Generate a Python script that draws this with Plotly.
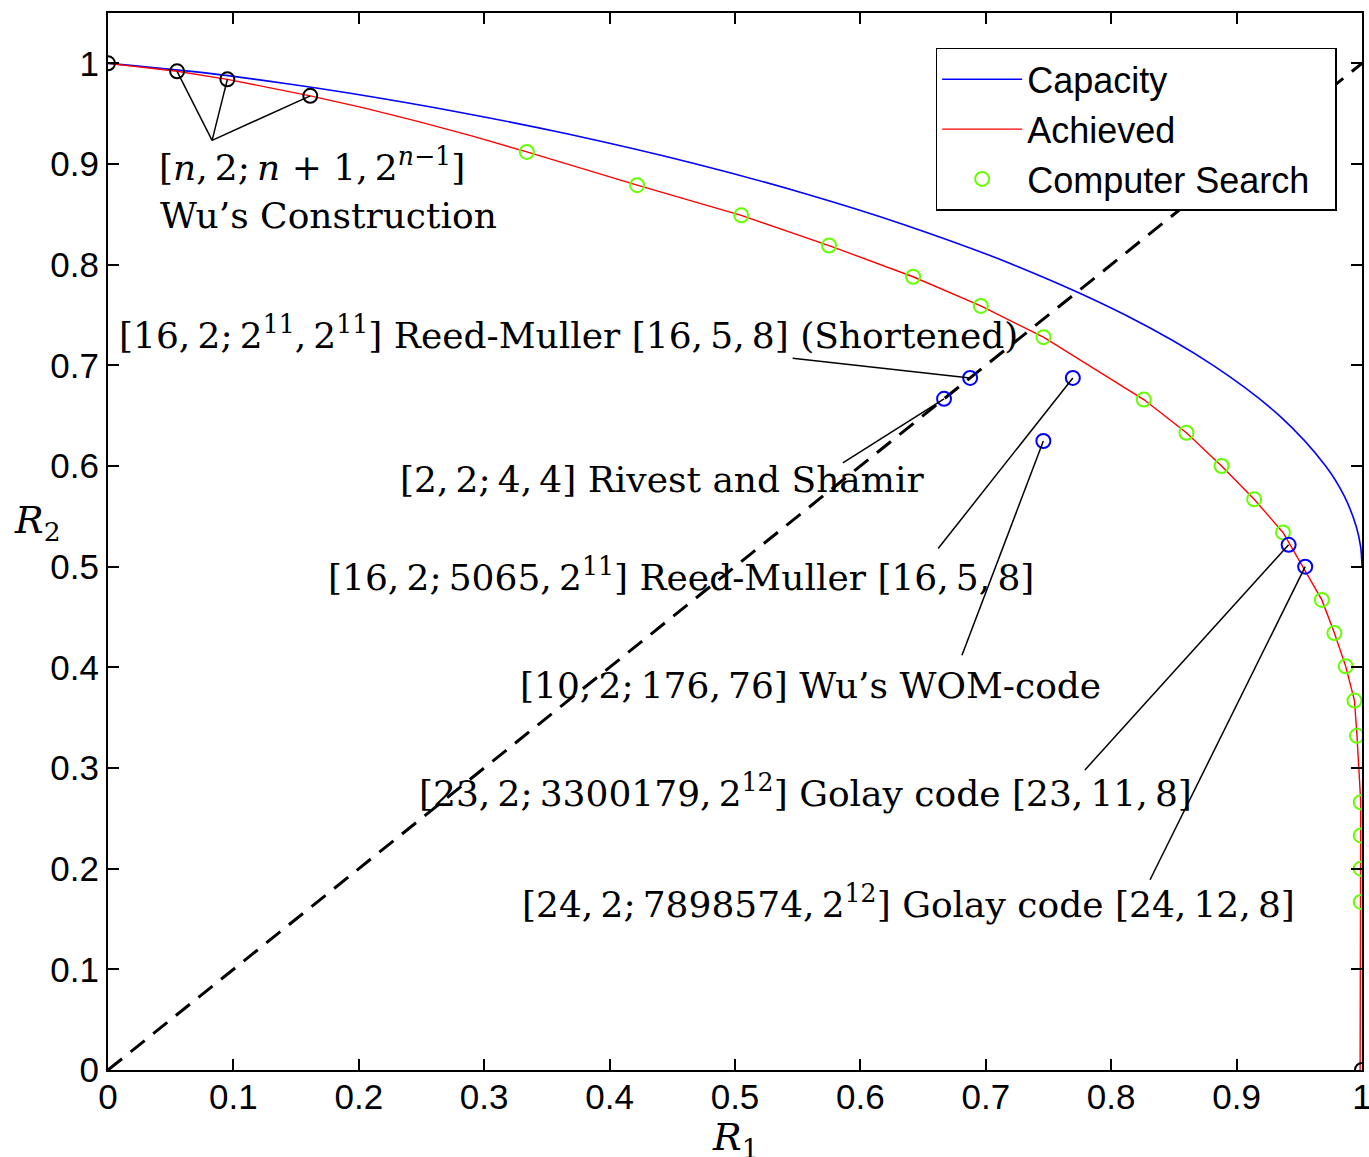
import plotly.graph_objects as go

# ---------------- data ----------------
cap_r1 = [0.0, 0.0808, 0.1414, 0.1944, 0.2864, 0.3659, 0.469, 0.5574, 0.6343,
          0.7219, 0.8113, 0.8813, 0.9341, 0.9710, 0.9859, 0.9954, 0.9989, 1.0]
cap_r2 = [1.0, 0.99, 0.98, 0.97, 0.95, 0.93, 0.90, 0.87, 0.84,
          0.80, 0.75, 0.70, 0.65, 0.60, 0.57, 0.54, 0.52, 0.50]

search_r1 = [0.334, 0.422, 0.505, 0.575, 0.642, 0.696, 0.746, 0.826, 0.860, 0.888,
             0.914, 0.937, 0.968, 0.978, 0.987, 0.994, 0.996, 0.999, 0.999, 0.999, 0.999]
search_r2 = [0.912, 0.879, 0.849, 0.819, 0.788, 0.759, 0.728, 0.666, 0.633, 0.600,
             0.567, 0.534, 0.467, 0.434, 0.401, 0.367, 0.332, 0.266, 0.233, 0.200, 0.167]

wu_r1 = [0.0551, 0.0952, 0.1613]
wu_r2 = [0.9921, 0.9841, 0.9677]

ach_mid_r1 = [0.204, 0.247, 0.290]
ach_mid_r2 = [0.9557, 0.9424, 0.9280]

ach_r1 = [0.0] + wu_r1 + ach_mid_r1 + search_r1 + [0.9985]
ach_r2 = [1.0] + wu_r2 + ach_mid_r2 + search_r2 + [0.0]

end_r1 = [0.0, 1.0]
end_r2 = [1.0, 0.0]

# codes: RM shortened, Rivest-Shamir, RM, Wu WOM, Golay23, Golay24
code_r1 = [0.6875, 0.6667, 0.7694, 0.7459, 0.9415, 0.9547]
code_r2 = [0.6875, 0.6667, 0.6875, 0.6248, 0.5217, 0.5000]

diag = [0.0, 1.0]

TS = "\u2009"
code_labels = [
    f"[16,{TS}2;{TS}2<sup>11</sup>,{TS}2<sup>11</sup>] Reed-Muller [16,{TS}5,{TS}8] (Shortened)",
    f"[2,{TS}2;{TS}4,{TS}4] Rivest and Shamir",
    f"[16,{TS}2;{TS}5065,{TS}2<sup>11</sup>] Reed-Muller [16,{TS}5,{TS}8]",
    f"[10,{TS}2;{TS}176,{TS}76] Wu’s WOM-code",
    f"[23,{TS}2;{TS}3300179,{TS}2<sup>12</sup>] Golay code [23,{TS}11,{TS}8]",
    f"[24,{TS}2;{TS}7898574,{TS}2<sup>12</sup>] Golay code [24,{TS}12,{TS}8]",
]
# label centre positions and leader-line start points (data coords)
label_x = [0.3676, 0.442, 0.457, 0.560, 0.556, 0.638]
label_y = [0.732, 0.587, 0.4916, 0.382, 0.277, 0.167]
lead_x = [0.546, 0.586, 0.662, 0.681, 0.779, 0.831]
lead_y = [0.707, 0.603, 0.518, 0.412, 0.298, 0.189]

wu_label1 = f"[<i>n</i>,{TS}2;{TS}<i>n</i> + 1,{TS}2<sup><i>n</i>−1</sup>]"
wu_label2 = "Wu’s Construction"
wu_apex = (0.083, 0.9235)

tick_vals = [0, 0.1, 0.2, 0.3, 0.4, 0.5, 0.6, 0.7, 0.8, 0.9, 1]
tick_text = ["0", "0.1", "0.2", "0.3", "0.4", "0.5", "0.6", "0.7", "0.8", "0.9", "1"]

# ---------------- figure ----------------
fig = go.Figure()

fig.add_trace(go.Scatter(x=diag, y=diag, mode="lines",
                         line=dict(color="black", width=3, dash="18px,11px"),
                         showlegend=False, hoverinfo="skip"))
fig.add_trace(go.Scatter(x=cap_r1, y=cap_r2, mode="lines", name="Capacity",
                         line=dict(color="#0000ff", width=1.6, shape="spline")))
fig.add_trace(go.Scatter(x=ach_r1, y=ach_r2, mode="lines", name="Achieved",
                         line=dict(color="#ff0000", width=1.4)))
fig.add_trace(go.Scatter(x=search_r1, y=search_r2, mode="markers",
                         name="Computer Search\u00a0\u00a0",
                         marker=dict(symbol="circle-open", size=14, color="#66ff00",
                                     line=dict(width=2, color="#66ff00"))))
fig.add_trace(go.Scatter(x=wu_r1 + end_r1, y=wu_r2 + end_r2, mode="markers", showlegend=False,
                         marker=dict(symbol="circle-open", size=14, color="black",
                                     line=dict(width=2, color="black"))))
fig.add_trace(go.Scatter(x=code_r1, y=code_r2, mode="markers", showlegend=False,
                         marker=dict(symbol="circle-open", size=14, color="#0000ff",
                                     line=dict(width=2, color="#0000ff"))))

shapes = []
for i in range(len(code_r1)):
    shapes.append(dict(type="line", xref="x", yref="y", x0=lead_x[i], y0=lead_y[i],
                       x1=code_r1[i], y1=code_r2[i], line=dict(color="black", width=1.5)))
for i in range(len(wu_r1)):
    shapes.append(dict(type="line", xref="x", yref="y", x0=wu_apex[0], y0=wu_apex[1],
                       x1=wu_r1[i], y1=wu_r2[i], line=dict(color="black", width=1.5)))

serif = dict(family="DejaVu Serif", size=36, color="black")
annotations = []
for i in range(len(code_labels)):
    annotations.append(dict(x=label_x[i], y=label_y[i], xref="x", yref="y", text=code_labels[i],
                            showarrow=False, xanchor="center", yanchor="middle", font=serif))
annotations.append(dict(x=0.163, y=0.899, xref="x", yref="y", text=wu_label1, showarrow=False,
                        xanchor="center", yanchor="middle", font=serif))
annotations.append(dict(x=0.176, y=0.849, xref="x", yref="y", text=wu_label2, showarrow=False,
                        xanchor="center", yanchor="middle", font=serif))
annotations.append(dict(x=0.5, y=-0.066, xref="paper", yref="paper", text="<i>R</i><sub>1</sub>",
                        showarrow=False, xanchor="center", yanchor="middle",
                        font=dict(family="DejaVu Serif", size=38, color="black")))
annotations.append(dict(x=-0.056, y=0.518, xref="paper", yref="paper", text="<i>R</i><sub>2</sub>",
                        showarrow=False, xanchor="center", yanchor="middle",
                        font=dict(family="DejaVu Serif", size=38, color="black")))

tickfont = dict(family="Liberation Sans", size=35, color="black")
axis_common = dict(showline=True, linewidth=2, linecolor="black", mirror="ticks",
                   ticks="inside", ticklen=11, tickwidth=1.5, tickcolor="black",
                   showgrid=False, zeroline=False, tickfont=tickfont, automargin=False,
                   tickvals=tick_vals, ticktext=tick_text, ticklabeloverflow="allow")

fig.update_layout(
    width=1369, height=1157,
    margin=dict(l=108, r=7, t=13, b=87),
    paper_bgcolor="white", plot_bgcolor="white",
    xaxis=dict(range=[0, 1], ticklabelstandoff=-5, **axis_common),
    yaxis=dict(range=[0, 1.05], **axis_common),
    legend=dict(x=0.660, y=0.967, xanchor="left", yanchor="top",
                bgcolor="white", bordercolor="black", borderwidth=1.5,
                font=dict(family="Liberation Sans", size=36, color="black"),
                itemwidth=80, tracegroupgap=0),
    shapes=shapes,
    annotations=annotations,
)

fig.write_html("out.html", config={"displayModeBar": False},
               post_script="document.body.style.margin='0';document.body.style.overflow='hidden';")
